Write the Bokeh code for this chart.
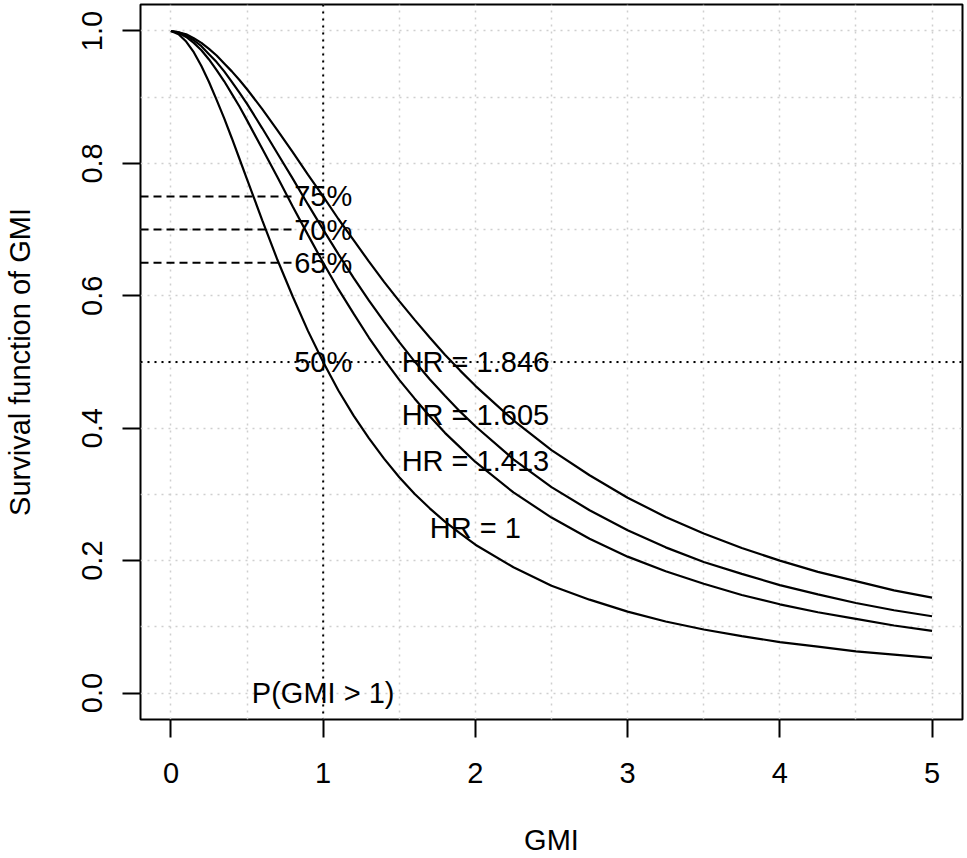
from bokeh.plotting import figure
from bokeh.models import Span, FixedTicker
from bokeh.embed import file_html
from bokeh.resources import INLINE
from bokeh.core.properties import value

# ---- data ----
gmi = [0.0, 0.05, 0.1, 0.15, 0.2, 0.25, 0.3, 0.35, 0.4, 0.45, 0.5, 0.6, 0.7, 0.8, 0.9,
       1.0, 1.1, 1.2, 1.3, 1.4, 1.5, 1.6, 1.7, 1.8, 1.9,
       2.0, 2.25, 2.5, 2.75, 3.0, 3.25, 3.5, 3.75, 4.0, 4.25, 4.5, 4.75, 5.0]

surv_hr_1 = [1.0, 0.995, 0.984, 0.968, 0.947, 0.923, 0.896, 0.868, 0.838, 0.807, 0.776,
             0.714, 0.654, 0.599, 0.547, 0.500, 0.457, 0.419, 0.385, 0.354, 0.326,
             0.301, 0.279, 0.259, 0.241, 0.224, 0.190, 0.162, 0.141, 0.123, 0.108,
             0.096, 0.086, 0.077, 0.070, 0.063, 0.058, 0.053]
surv_hr_1413 = [1.0, 0.997, 0.991, 0.982, 0.971, 0.957, 0.941, 0.924, 0.905, 0.886, 0.865,
                0.822, 0.779, 0.735, 0.692, 0.650, 0.610, 0.573, 0.537, 0.504, 0.473,
                0.445, 0.418, 0.393, 0.371, 0.349, 0.303, 0.265, 0.233, 0.206, 0.184,
                0.165, 0.148, 0.134, 0.122, 0.112, 0.102, 0.094]
surv_hr_1605 = [1.0, 0.998, 0.993, 0.986, 0.977, 0.965, 0.953, 0.939, 0.923, 0.907, 0.890,
                0.853, 0.815, 0.777, 0.738, 0.700, 0.663, 0.627, 0.593, 0.561, 0.530,
                0.501, 0.474, 0.449, 0.425, 0.403, 0.353, 0.311, 0.276, 0.246, 0.220,
                0.198, 0.180, 0.163, 0.149, 0.136, 0.125, 0.116]
surv_hr_1846 = [1.0, 0.998, 0.995, 0.989, 0.982, 0.973, 0.963, 0.951, 0.939, 0.926, 0.912,
                0.882, 0.850, 0.817, 0.783, 0.750, 0.716, 0.684, 0.652, 0.621, 0.592,
                0.564, 0.537, 0.511, 0.487, 0.464, 0.412, 0.367, 0.329, 0.295, 0.266,
                0.241, 0.219, 0.200, 0.183, 0.169, 0.155, 0.144]

pct_levels = [0.75, 0.70, 0.65]
pct_dash_start = -0.2
pct_dash_end = 0.8
pct_label_x = [1, 1, 1, 1]
pct_label_y = [0.75, 0.70, 0.65, 0.50]
pct_labels = ["75%", "70%", "65%", "50%"]

hr_label_x = [2, 2, 2, 2]
hr_label_y = [0.50, 0.42, 0.35, 0.25]
hr_labels = ["HR = 1.846", "HR = 1.605", "HR = 1.413", "HR = 1"]

prob_label_x = [1]
prob_label_y = [0.0]
prob_label = ["P(GMI > 1)"]

ref_gmi = 1.0
ref_surv = 0.5

x_ticks = [0, 1, 2, 3, 4, 5]
x_tick_labels = ["0", "1", "2", "3", "4", "5"]
y_ticks = [0.0, 0.2, 0.4, 0.6, 0.8, 1.0]
y_tick_labels = ["0.0", "0.2", "0.4", "0.6", "0.8", "1.0"]
x_grid = [0, 0.5, 1, 1.5, 2, 2.5, 3, 3.5, 4, 4.5, 5]
y_grid = [0.0, 0.1, 0.2, 0.3, 0.4, 0.5, 0.6, 0.7, 0.8, 0.9, 1.0]

FONT = "Liberation Sans"
FS = "29px"

p = figure(width=967, height=858, x_range=(-0.2, 5.2), y_range=(-0.04, 1.04),
           output_backend="svg", toolbar_location=None,
           min_border_left=139, min_border_right=5, min_border_top=4,
           min_border_bottom=139)

p.background_fill_color = "white"
p.border_fill_color = "white"
p.outline_line_color = "black"
p.outline_line_width = 2

# grid
p.xgrid.ticker = FixedTicker(ticks=x_grid)
p.ygrid.ticker = FixedTicker(ticks=y_grid)
for g in (p.xgrid, p.ygrid):
    g.grid_line_color = "#cfcfcf"
    g.grid_line_dash = "2 5"
    g.grid_line_width = 1.5

# axes
p.xaxis.ticker = FixedTicker(ticks=x_ticks)
p.xaxis.major_label_overrides = {t: l for t, l in zip(x_ticks, x_tick_labels)}
p.yaxis.ticker = FixedTicker(ticks=y_ticks)
p.yaxis.major_label_overrides = {t: l for t, l in zip(y_ticks, y_tick_labels)}
p.yaxis.major_label_orientation = "vertical"
p.xaxis.axis_label = "GMI"
p.yaxis.axis_label = "Survival function of GMI"
for ax in (p.xaxis, p.yaxis):
    ax.axis_line_color = None
    ax.minor_tick_line_color = None
    ax.major_tick_in = 0
    ax.major_tick_out = 18
    ax.major_tick_line_width = 2
    ax.major_tick_line_color = "black"
    ax.major_label_text_font = FONT
    ax.major_label_text_font_size = FS
    ax.major_label_text_color = "black"
    ax.axis_label_text_font = FONT
    ax.axis_label_text_font_size = FS
    ax.axis_label_text_font_style = "normal"
    ax.axis_label_text_color = "black"
p.xaxis.major_label_standoff = 25
p.xaxis.axis_label_standoff = 38
p.yaxis.major_label_standoff = 20
p.yaxis.axis_label_standoff = 44

# reference lines
p.add_layout(Span(location=ref_gmi, dimension="height", line_color="black",
                  line_dash="2 5", line_width=2))
p.add_layout(Span(location=ref_surv, dimension="width", line_color="black",
                  line_dash="2 5", line_width=2))

# dashed lines for percentages
p.segment(x0=[pct_dash_start] * len(pct_levels), y0=pct_levels,
          x1=[pct_dash_end] * len(pct_levels), y1=pct_levels,
          line_color="black", line_dash="8 5", line_width=2)

# survival curves
for s in (surv_hr_1, surv_hr_1413, surv_hr_1605, surv_hr_1846):
    p.line(gmi, s, line_color="black", line_width=2.2)

# labels
for xs, ys, txt in ((pct_label_x, pct_label_y, pct_labels),
                    (hr_label_x, hr_label_y, hr_labels),
                    (prob_label_x, prob_label_y, prob_label)):
    p.text(x=xs, y=ys, text=txt, text_font=value(FONT), text_font_size=value(FS),
           text_align="center", text_baseline="middle", text_color="black")

open("out.html", "w").write(file_html(p, INLINE))
